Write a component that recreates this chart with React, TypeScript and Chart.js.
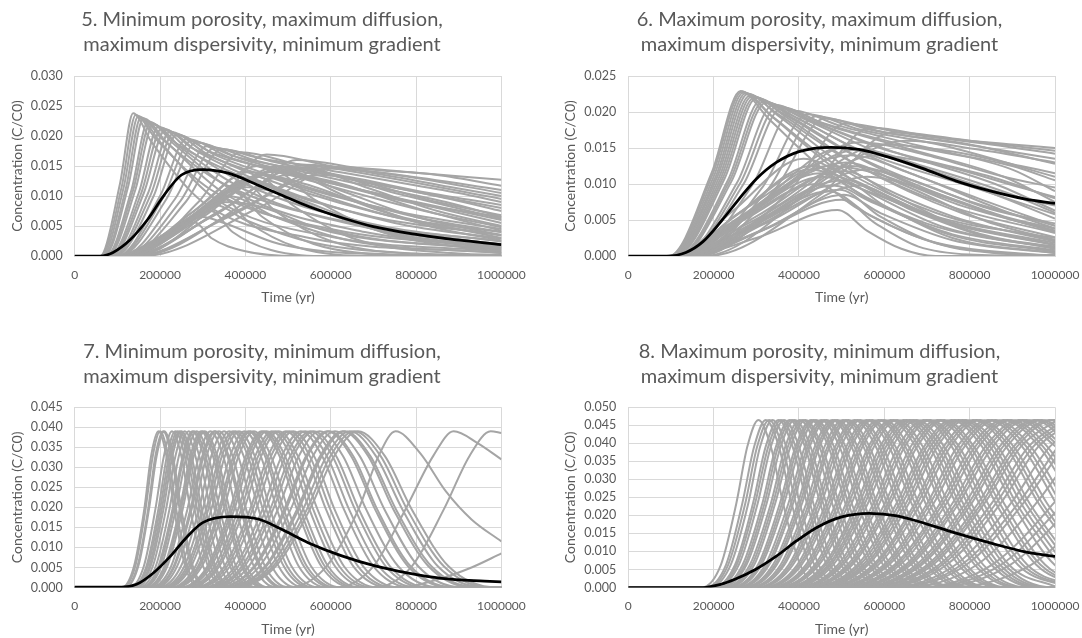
import React, { useEffect, useRef } from 'react';
import { Chart, registerables } from 'chart.js';

Chart.register(...registerables);

const GREY = '#a5a5a5';
const TEXT = '#595959';
const GRID = '#d9d9d9';
const FONT = 'Lato, "Open Sans", sans-serif';

const xAxisTitle = 'Time (yr)';
const yAxisTitle = 'Concentration (C/C0)';

const title5 = ['5. Minimum porosity, maximum diffusion,', 'maximum dispersivity, minimum gradient'];
const title6 = ['6. Maximum porosity, maximum diffusion,', 'maximum dispersivity, minimum gradient'];
const title7 = ['7. Minimum porosity, minimum diffusion,', 'maximum dispersivity, minimum gradient'];
const title8 = ['8. Maximum porosity, minimum diffusion,', 'maximum dispersivity, minimum gradient'];

const yMax5 = 0.03;
const yMax6 = 0.025;
const yMax7 = 0.045;
const yMax8 = 0.05;

// Curves: flat pairs [time (kyr), C/C0 (x 1e-3)]
const p5Black = [0,0, 60,0, 90,0.6, 130,2.7, 170,6.0, 210,10.2, 250,13.5, 300,14.4, 360,13.8, 430,11.8, 480,10.3, 550,8.2, 630,6.3, 700,4.9, 800,3.6, 880,2.8, 1000,1.9];
const p5Grey = [
  [0,0, 60,0, 106,12, 137,23.8, 180,19, 300,9, 550,3, 1000,0.5],
  [0,0, 65,0, 115,11.5, 149,23.3, 200,19, 330,9.5, 600,3.2, 1000,0.8],
  [0,0, 70,0, 125,11.5, 161,22.9, 215,19, 360,10, 650,3.5, 1000,1.2],
  [0,0, 74,0, 133,11, 172,22.4, 235,18.5, 380,10.5, 680,4, 1000,1.6],
  [0,0, 78,0, 142,11, 184,21.9, 250,18, 400,11, 700,4.5, 1000,2.0],
  [0,0, 82,0, 150,10.5, 196,21.5, 270,17.5, 430,11, 720,5, 1000,2.4],
  [0,0, 86,0, 162,10.5, 212,21.0, 290,17.3, 450,12, 750,5.5, 1000,2.9],
  [0,0, 90,0, 172,10.5, 223,20.7, 310,17, 480,12, 780,6, 1000,3.4],
  [0,0, 95,0, 185,10, 239,20.2, 330,16.8, 500,12.5, 800,6.5, 1000,4.0],
  [0,0, 100,0, 200,10, 262,19.5, 360,16.5, 530,13, 820,7.5, 1000,4.8],
  [0,0, 105,0, 215,9.5, 285,18.9, 390,16.2, 560,13, 850,8, 1000,5.5],
  [0,0, 110,0, 235,9.5, 310,18.3, 420,16, 600,13, 870,9, 1000,6.5],
  [0,0, 120,0, 260,9, 345,17.8, 460,15.8, 640,13, 880,9.5, 1000,7.5],
  [0,0, 130,0, 290,9, 390,17.3, 520,15.3, 700,13, 900,10.5, 1000,9.0],
  [0,0, 140,0, 330,8.5, 450,16.9, 600,15, 800,13, 1000,10.5],
  [0,0, 150,0, 380,8, 520,16, 680,14.5, 850,13.5, 1000,11.7],
  [0,0, 160,0, 430,8, 620,14.8, 780,14, 1000,12.7],
  [0,0, 90,0, 200,2.5, 282,5.6, 320,3, 400,0.8, 520,0, 1000,0],
  [0,0, 95,0, 220,3.5, 320,7.5, 370,4, 460,1, 600,0, 1000,0],
  [0,0, 100,0, 240,4.5, 350,9.5, 410,5.5, 520,1.5, 700,0, 1000,0],
  [0,0, 100,0, 250,5, 375,10.8, 440,6.5, 560,2, 760,0.2, 1000,0],
  [0,0, 105,0, 260,5.5, 400,12, 470,7.5, 600,2.5, 820,0.3, 1000,0.1],
  [0,0, 110,0, 280,6, 430,13.2, 510,8.5, 650,3, 900,0.4, 1000,0.2],
  [0,0, 115,0, 300,6.5, 465,14.2, 560,9.5, 720,4, 1000,0.6],
  [0,0, 120,0, 300,7, 480,14.5, 620,11, 800,6.5, 1000,3.5],
  [0,0, 130,0, 330,7, 530,14.8, 680,11.5, 850,7.5, 1000,5],
  [0,0, 110,0, 270,6, 420,12.5, 560,8, 750,3.5, 1000,1.2],
  [0,0, 140,0, 360,6.5, 580,13.5, 750,10.5, 1000,6.2],
  [0,0, 100,0, 230,4, 360,10, 470,6.5, 650,2.5, 1000,0.5],
  [0,0, 125,0, 320,6.5, 500,13.5, 650,9.5, 830,5, 1000,2.6],
  [0,0, 62,0, 110,11.5, 143,23.5, 190,19.5, 320,11, 600,4.5, 1000,1.5],
  [0,0, 68,0, 120,11.3, 155,23.1, 205,19.5, 350,12, 650,5.5, 1000,2.5],
  [0,0, 76,0, 137,11, 178,22.2, 240,18.7, 400,13, 700,6.5, 1000,3.5],
  [0,0, 84,0, 156,10.5, 204,21.3, 280,17.8, 440,13.5, 750,7.5, 1000,4.5],
  [0,0, 92,0, 178,10.2, 231,20.4, 320,17.3, 490,14, 800,9, 1000,6],
  [0,0, 102,0, 207,9.7, 273,19.2, 375,16.6, 560,14, 850,10, 1000,8],
  [0,0, 115,0, 248,9.2, 328,18, 440,16.2, 640,14.2, 1000,9.5],
  [0,0, 100,0, 230,4.5, 340,9, 420,8.5, 600,4, 1000,1],
  [0,0, 105,0, 250,5.5, 390,11.5, 480,10.5, 680,5.5, 1000,1.8],
  [0,0, 110,0, 270,6.5, 440,13.5, 540,12, 740,7, 1000,3],
  [0,0, 95,0, 210,3.5, 300,6.5, 350,5.5, 480,2, 700,0.3, 1000,0],
  [0,0, 115,0, 290,7, 460,14, 600,12.5, 800,8, 1000,4.2],
  [0,0, 120,0, 310,7.5, 500,14.8, 640,13, 850,9, 1000,6.8],
  [0,0, 108,0, 260,6, 410,12.8, 500,10, 700,4.5, 1000,1.4],
  [0,0, 98,0, 225,4, 330,8.5, 400,6, 560,2.2, 800,0.4, 1000,0.1],
  [0,0, 135,0, 340,7.5, 540,15.2, 700,13.8, 880,11.5, 1000,10],
  [0,0, 125,0, 310,7.5, 480,15, 640,13.2, 830,10.5, 1000,8.5],
  [0,0, 118,0, 280,7.5, 430,15, 580,12.5, 780,9, 1000,6.5],
  [0,0, 145,0, 380,7.5, 600,14.6, 760,13.5, 1000,11],
  [0,0, 112,0, 270,7, 410,14, 540,11, 750,6.5, 1000,4],
];

const p6Black = [0,0, 90,0, 135,0.5, 175,2.0, 220,5.0, 258,7.8, 300,10.7, 347,13.0, 400,14.5, 475,15.1, 540,14.8, 606,13.8, 688,12.2, 769,10.4, 850,9.0, 931,7.9, 1000,7.3];
const p6Grey = [
  [0,0, 95,0, 195,11.5, 263,22.9, 330,19, 480,11, 700,4.5, 1000,1.0],
  [0,0, 98,0, 202,11.3, 270,22.7, 340,19.2, 500,11.5, 730,5, 1000,1.5],
  [0,0, 102,0, 210,11.2, 280,22.5, 355,19.3, 520,12, 760,5.5, 1000,2.0],
  [0,0, 106,0, 218,11, 290,22.2, 370,19.3, 540,12.5, 780,6, 1000,2.6],
  [0,0, 110,0, 226,10.8, 300,21.9, 385,19.2, 560,13, 800,7, 1000,3.3],
  [0,0, 114,0, 234,10.6, 310,21.6, 400,19, 580,13.5, 820,8, 1000,4.2],
  [0,0, 118,0, 242,10.4, 322,21.3, 420,18.8, 600,14, 840,9, 1000,5.2],
  [0,0, 124,0, 255,10.2, 340,21.0, 440,18.5, 620,14.5, 860,10, 1000,6.3],
  [0,0, 130,0, 270,10, 360,20.6, 460,18.3, 650,15, 880,11, 1000,7.5],
  [0,0, 138,0, 290,9.8, 385,20.2, 500,18, 690,15.2, 900,12, 1000,9],
  [0,0, 146,0, 315,9.6, 420,19.7, 540,17.6, 740,15.3, 1000,11],
  [0,0, 155,0, 345,9.4, 460,19.1, 600,17.2, 800,15.5, 1000,12.8],
  [0,0, 165,0, 380,9.2, 510,18.4, 650,17, 850,15.5, 1000,14.2],
  [0,0, 175,0, 420,9, 570,17.8, 720,16.5, 900,15.5, 1000,15.0],
  [0,0, 185,0, 450,8.5, 620,17.2, 800,16, 1000,14.6],
  [0,0, 130,0, 300,2.5, 490,6.4, 560,3.5, 640,1, 720,0, 1000,0],
  [0,0, 130,0, 300,3.2, 500,7.8, 580,4.5, 680,1.3, 800,0.2, 1000,0],
  [0,0, 125,0, 290,3.8, 495,9.2, 590,5.5, 720,1.8, 880,0.3, 1000,0.1],
  [0,0, 120,0, 280,4.5, 500,10.5, 600,7, 760,2.5, 1000,0.4],
  [0,0, 120,0, 270,5, 505,11.8, 620,8.5, 800,3.5, 1000,1.0],
  [0,0, 115,0, 265,5.5, 510,13, 640,10, 840,4.8, 1000,2.2],
  [0,0, 115,0, 260,6, 520,14, 660,11.5, 870,6.5, 1000,3.8],
  [0,0, 120,0, 300,6.5, 540,14.8, 690,12.5, 900,8.5, 1000,6.0],
  [0,0, 110,0, 250,5, 450,11.5, 560,8, 750,3, 1000,0.6],
  [0,0, 112,0, 250,5.5, 430,12.5, 540,9.5, 740,4, 1000,1.2],
  [0,0, 108,0, 240,6, 410,13.5, 530,10.5, 740,5, 1000,1.8],
  [0,0, 135,0, 320,5, 560,12, 700,9, 900,5, 1000,3.5],
  [0,0, 140,0, 330,4, 540,9.8, 660,6.5, 850,2.5, 1000,1.3],
  [0,0, 125,0, 290,4.2, 470,9, 570,5.5, 720,1.8, 900,0.3, 1000,0.1],
  [0,0, 118,0, 260,4.8, 440,10, 540,6.5, 700,2.2, 950,0.2, 1000,0.1],
  [0,0, 96,0, 198,11.4, 266,22.8, 335,19.5, 490,12.5, 720,6, 1000,2.2],
  [0,0, 100,0, 206,11.2, 275,22.6, 348,19.8, 510,13.5, 750,7, 1000,3.2],
  [0,0, 104,0, 214,11.1, 285,22.3, 362,19.8, 530,14, 780,8, 1000,4.2],
  [0,0, 108,0, 222,10.9, 295,22, 378,19.7, 550,14.5, 810,9.5, 1000,5.8],
  [0,0, 116,0, 238,10.5, 316,21.4, 410,19.2, 590,15, 850,11, 1000,8],
  [0,0, 127,0, 262,10.1, 350,20.8, 450,18.6, 640,15.5, 900,12.5, 1000,10.5],
  [0,0, 150,0, 330,9.5, 440,19.4, 570,17.5, 780,15.6, 1000,13.5],
  [0,0, 125,0, 280,6, 470,12.5, 580,11.5, 780,7, 1000,3.5],
  [0,0, 118,0, 265,5.2, 455,11, 560,9, 760,4.5, 1000,1.6],
  [0,0, 132,0, 300,5.5, 520,12.5, 640,11, 850,6.5, 1000,4.5],
  [0,0, 128,0, 290,4.5, 480,9.8, 570,7.5, 760,3, 1000,0.8],
  [0,0, 140,0, 320,4.5, 560,11, 680,9.5, 880,5.5, 1000,3.8],
  [0,0, 135,0, 310,3.5, 505,8.5, 590,6, 760,2.2, 1000,0.4],
  [0,0, 112,0, 255,5.8, 425,12, 520,10.5, 720,5.5, 1000,2.5],
  [0,0, 145,0, 340,6, 580,14, 720,12.8, 920,9.5, 1000,8.2],
  [0,0, 150,0, 350,7, 600,15.5, 760,14.5, 920,12.5, 1000,11.5],
  [0,0, 135,0, 320,7.5, 540,15.8, 700,14, 880,11, 1000,9.5],
  [0,0, 160,0, 380,7.5, 650,16, 820,14.8, 1000,13],
  [0,0, 130,0, 300,7, 500,15, 660,12.8, 860,9, 1000,7],
];

const p7Black = [0,0.1, 110,0.1, 145,0.8, 185,3.7, 225,7.9, 262,12.5, 300,16.2, 365,17.7, 430,17.1, 480,14.8, 547,11.2, 626,7.9, 704,5.4, 782,3.6, 860,2.3, 960,1.6, 1000,1.4];
// Bell-shaped curves: knot times (kyr) per curve, with the shared knot levels (x 1e-3)
const p7Levels = [0, 0, 5.3, 19.5, 32.8, 39, 32.8, 19.5, 5.3, 0, 0];
const p7Times = [
  [0,110,139,163,179,196,215,233,259,292,1000],
  [0,112,142,166,183,200,219,238,264,298,1000],
  [0,116,147,172,189,207,227,246,273,308,1000],
  [0,118,149,174,192,210,230,250,277,313,1000],
  [0,128,162,189,209,228,250,271,301,340,1000],
  [0,132,168,196,216,236,258,281,312,352,1000],
  [0,135,171,200,221,241,264,287,318,359,1000],
  [0,138,175,204,225,246,269,293,325,367,1000],
  [0,140,178,208,229,250,274,298,330,373,1000],
  [0,144,183,214,236,258,283,307,341,384,1000],
  [0,150,190,222,244,267,292,318,352,398,1000],
  [0,155,196,229,253,276,302,328,364,411,1000],
  [0,157,199,232,256,280,307,333,370,417,1000],
  [0,160,203,237,262,286,313,340,378,426,1000],
  [0,166,210,246,271,296,324,352,391,441,1000],
  [0,168,213,249,275,300,329,357,396,447,1000],
  [0,171,217,253,279,305,334,363,403,454,1000],
  [0,178,226,264,291,318,348,378,420,474,1000],
  [0,183,232,271,299,327,358,389,432,487,1000],
  [0,185,234,274,302,330,361,393,436,492,1000],
  [0,189,240,281,309,338,370,402,446,504,1000],
  [0,196,249,291,320,350,383,417,462,522,1000],
  [0,203,257,300,331,362,396,431,478,539,1000],
  [0,208,263,308,339,371,406,441,490,553,1000],
  [0,211,268,313,345,377,413,449,498,562,1000],
  [0,216,273,320,352,385,422,458,508,574,1000],
  [0,223,283,330,364,398,436,474,525,593,1000],
  [0,228,289,338,372,407,446,484,537,606,1000],
  [0,231,293,342,377,412,451,490,544,614,1000],
  [0,235,298,349,384,420,460,500,554,626,1000],
  [0,245,311,364,401,438,480,521,578,653,1000],
  [0,249,315,369,406,444,486,528,586,662,1000],
  [0,252,320,374,412,450,493,536,594,671,1000],
  [0,259,328,383,423,462,506,550,610,688,1000],
  [0,263,334,390,430,470,515,559,620,700,1000],
  [0,268,339,397,437,478,523,569,631,712,1000],
  [0,277,351,411,453,495,542,589,653,738,1000],
  [0,282,357,417,460,503,551,599,664,749,1000],
  [0,287,364,425,468,512,561,609,676,763,1000],
  [0,297,376,440,485,530,580,631,700,790,1000],
  [0,302,383,448,494,540,591,643,713,805,1000],
  [0,309,392,458,505,552,604,657,729,822,1000],
  [0,314,398,465,512,560,613,666,739,834,1000],
  [0,321,408,476,525,574,629,683,758,855,1000],
  [0,332,420,491,542,592,648,704,781,882,1000],
  [0,334,423,495,545,596,653,709,787,888,1000],
  [0,342,433,506,558,610,668,726,805,909,1000],
  [0,352,446,521,575,628,688,747,829,936,1000],
  [0,354,449,525,579,633,693,753,836,943,1000],
  [0,361,458,535,590,645,706,768,851,961,1000],
  [0,367,465,544,599,655,717,779,865,976,1000],
  [0,372,471,551,608,664,727,790,876,989,1000],
];
const p7Late = [
  [0,0, 500,0, 590,5.3, 665,19.5, 712,32.8, 752,39, 810,33.5, 870,24, 930,17, 1000,11.5],
  [0,0, 610,0, 700,5.3, 775,19.5, 840,32.8, 888,39, 945,36, 1000,32],
  [0,0, 700,0, 790,5.3, 865,19.5, 925,32.8, 975,39, 1000,38.6],
  [0,0, 760,0, 850,2, 930,5, 1000,8.5],
];

const p8Black = [0,0, 175,0, 217,0.9, 250,2.3, 298,5.0, 347,8.7, 395,13.0, 444,16.8, 500,19.6, 565,20.6, 630,19.9, 700,17.6, 770,15.0, 850,12.3, 930,9.9, 1000,8.6];
const p8Levels = [0, 0, 6.3, 23.25, 39.1, 46.5, 39.1, 23.25, 6.3, 0, 0];
const p8Times = [
  [0,171,217,253,279,305,334,363,403,454,1000],
  [0,180,229,267,295,322,353,383,425,480,1000],
  [0,185,234,274,302,330,361,393,436,492,1000],
  [0,189,240,281,309,338,370,402,446,504,1000],
  [0,197,250,292,322,352,385,419,465,524,1000],
  [0,200,254,297,328,358,392,426,473,533,1000],
  [0,204,259,303,334,365,400,434,482,544,1000],
  [0,212,268,314,346,378,414,450,499,563,1000],
  [0,215,273,319,351,384,420,457,507,572,1000],
  [0,218,277,324,357,390,427,464,515,581,1000],
  [0,225,285,334,368,402,440,478,531,599,1000],
  [0,229,290,339,374,409,448,487,540,609,1000],
  [0,232,295,344,380,415,454,494,548,618,1000],
  [0,240,304,355,392,428,469,509,565,638,1000],
  [0,243,308,360,397,434,475,516,573,647,1000],
  [0,246,312,365,403,440,482,524,581,656,1000],
  [0,253,321,375,414,452,495,538,597,673,1000],
  [0,257,326,381,420,459,503,546,606,684,1000],
  [0,260,330,386,425,465,509,553,614,693,1000],
  [0,268,339,397,437,478,523,569,631,712,1000],
  [0,271,344,402,443,484,530,576,639,721,1000],
  [0,274,348,407,448,490,537,583,647,730,1000],
  [0,282,357,417,460,503,551,599,664,749,1000],
  [0,286,362,423,467,510,558,607,673,760,1000],
  [0,289,366,428,472,516,565,614,681,769,1000],
  [0,297,376,440,485,530,580,631,700,790,1000],
  [0,301,381,446,491,537,588,639,709,800,1000],
  [0,305,386,452,498,544,596,647,718,811,1000],
  [0,312,396,463,511,558,611,664,737,831,1000],
  [0,316,401,469,517,565,619,672,746,842,1000],
  [0,320,406,475,523,572,626,681,755,852,1000],
  [0,328,416,486,536,586,642,697,774,873,1000],
  [0,332,421,492,543,593,649,706,783,884,1000],
  [0,336,426,498,549,600,657,714,792,894,1000],
  [0,344,437,510,563,615,673,732,812,916,1000],
  [0,348,442,516,569,622,681,740,821,927,1000],
  [0,353,447,523,576,630,690,750,832,939,1000],
  [0,361,458,535,590,645,706,768,851,961,1000],
  [0,365,463,541,597,652,714,776,861,971,1000],
  [0,370,469,548,604,660,723,785,871,983,1000],
  [0,374,474,554,611,668,731,795,882,995,1000],
  [0,379,480,561,619,676,740,804,892,1007],
  [0,388,491,574,633,692,758,823,913,1031],
  [0,392,497,581,641,700,767,833,924,1043],
  [0,396,503,588,648,708,775,843,935,1055],
  [0,405,514,601,662,724,793,862,956,1079],
  [0,410,520,608,670,732,802,871,966,1091],
  [0,414,525,614,677,740,810,881,977,1103],
  [0,424,537,628,693,757,829,901,999,1128],
  [0,428,543,635,700,765,838,910,1010],
  [0,433,550,642,708,774,848,921,1022],
  [0,438,556,650,716,783,857,932,1034],
  [0,443,562,657,724,791,866,941,1044],
  [0,452,574,671,739,808,885,962,1067],
  [0,457,579,677,747,816,894,971,1077],
  [0,462,586,685,755,825,903,982,1089],
  [0,472,599,700,771,843,923,1003],
  [0,477,605,707,780,852,933,1014],
  [0,482,611,715,788,861,943,1025],
  [0,492,624,730,804,879,963,1046],
  [0,497,630,737,813,888,972,1057],
  [0,502,637,745,821,897,982,1067],
  [0,512,650,759,837,915,1002],
  [0,517,656,767,845,924,1012],
  [0,522,662,774,854,933,1022],
  [0,533,675,789,870,951,1041],
  [0,538,682,797,878,960,1051],
  [0,543,688,804,887,969,1061],
  [0,553,701,819,903,987,1081],
  [0,558,707,827,911,996,1091],
  [0,563,714,834,920,1005],
  [0,574,728,851,938,1025],
  [0,581,736,861,949,1037],
  [0,588,746,872,961,1050],
  [0,605,767,896,988,1080],
  [0,616,781,913,1007],
  [0,624,792,925,1020],
  [0,644,817,955,1052],
  [0,672,852,996,1098],
  [0,689,873,1021],
  [0,706,895,1046],
  [0,745,944,1104],
];

type Pt = { x: number; y: number };

function fromPairs(flat: number[]): Pt[] {
  const pts: Pt[] = [];
  for (let i = 0; i < flat.length; i += 2) pts.push({ x: flat[i] * 1000, y: flat[i + 1] / 1000 });
  return pts;
}

function fromTimes(times: number[], levels: number[]): Pt[] {
  return times.map((t, i) => ({ x: t * 1000, y: levels[i] / 1000 }));
}

type PanelDef = {
  title: string[];
  yMax: number;
  black: Pt[];
  grey: Pt[][];
  box: { left: number; top: number; width: number; height: number };
  padLeft: number;
  padRight: number;
  yAxisWidth: number;
  titlePadTop: number;
  titlePadBottom: number;
  xAxisHeight: number;
  yTitlePad: number;
};

const panels: PanelDef[] = [
  {
    title: title5, yMax: yMax5, black: fromPairs(p5Black), grey: p5Grey.map(fromPairs),
    box: { left: 0, top: 0, width: 530, height: 306 },
    padLeft: 22.6, padRight: 28.6, yAxisWidth: 52.1,
    titlePadTop: 7.5, titlePadBottom: 18.5, xAxisHeight: 50, yTitlePad: -14,
  },
  {
    title: title6, yMax: yMax6, black: fromPairs(p6Black), grey: p6Grey.map(fromPairs),
    box: { left: 557, top: 0, width: 525, height: 306 },
    padLeft: 27, padRight: 27, yAxisWidth: 44.3,
    titlePadTop: 7.5, titlePadBottom: 18.5, xAxisHeight: 50, yTitlePad: -22,
  },
  {
    title: title7, yMax: yMax7, black: fromPairs(p7Black),
    grey: [...p7Times.map((r) => fromTimes(r, p7Levels)), ...p7Late.map(fromPairs)],
    box: { left: 0, top: 320, width: 530, height: 318 },
    padLeft: 22.6, padRight: 28.6, yAxisWidth: 52.1,
    titlePadTop: 19.5, titlePadBottom: 17.8, xAxisHeight: 50.5, yTitlePad: -14,
  },
  {
    title: title8, yMax: yMax8, black: fromPairs(p8Black),
    grey: p8Times.map((r) => fromTimes(r, p8Levels)),
    box: { left: 557, top: 320, width: 525, height: 318 },
    padLeft: 27, padRight: 27, yAxisWidth: 44.3,
    titlePadTop: 19.5, titlePadBottom: 17.8, xAxisHeight: 50.5, yTitlePad: -22,
  },
];

function Panel({ def }: { def: PanelDef }) {
  const ref = useRef<HTMLCanvasElement | null>(null);
  useEffect(() => {
    if (!ref.current) return;
    const datasets: any[] = [
      {
        data: def.black,
        borderColor: '#000000',
        borderWidth: 2.75,
        order: 0,
      },
      ...def.grey.map((g) => ({
        data: g,
        borderColor: GREY,
        borderWidth: 2,
        order: 1,
      })),
    ];
    const chart = new Chart(ref.current, {
      type: 'line',
      data: { datasets },
      options: {
        animation: false,
        responsive: true,
        maintainAspectRatio: false,
        events: [],
        parsing: false as any,
        layout: { padding: { left: def.padLeft, right: def.padRight, top: 0, bottom: 0 } },
        elements: {
          point: { radius: 0 },
          line: { cubicInterpolationMode: 'monotone', fill: false },
        },
        plugins: {
          legend: { display: false },
          tooltip: { enabled: false },
          title: {
            display: true,
            text: def.title,
            color: TEXT,
            font: { family: FONT, size: 20, weight: 'normal', lineHeight: 1.25 },
            padding: { top: def.titlePadTop, bottom: def.titlePadBottom },
          },
        },
        scales: {
          x: {
            type: 'linear',
            min: 0,
            max: 1000000,
            afterFit: (s: any) => {
              s.height = def.xAxisHeight;
              s.paddingLeft = 0;
              s.paddingRight = 0;
            },
            ticks: {
              stepSize: 200000,
              color: TEXT,
              font: { family: FONT, size: 12 },
              padding: 11.5,
              maxRotation: 0,
              autoSkip: false,
              callback: (v: any) => String(v),
            },
            grid: { color: GRID, lineWidth: 1, drawTicks: false },
            border: { color: GRID, width: 1 },
            title: {
              display: true,
              text: xAxisTitle,
              color: TEXT,
              font: { family: FONT, size: 14, lineHeight: 1.2 },
              padding: { top: 0, bottom: 0.6 },
            },
          },
          y: {
            type: 'linear',
            min: 0,
            max: def.yMax,
            afterFit: (s: any) => {
              s.width = def.yAxisWidth;
            },
            ticks: {
              stepSize: 0.005,
              color: TEXT,
              font: { family: FONT, size: 12.5 },
              padding: 12,
              callback: (v: any) => Number(v).toFixed(3),
            },
            grid: { color: GRID, lineWidth: 1, drawTicks: false },
            border: { color: GRID, width: 1 },
            title: {
              display: true,
              text: yAxisTitle,
              color: TEXT,
              font: { family: FONT, size: 14, lineHeight: 1.2 },
              padding: { top: def.yTitlePad, bottom: 0 },
            },
          },
        },
      } as any,
    });
    return () => chart.destroy();
  }, [def]);

  const b = def.box;
  return (
    <div style={{ position: 'absolute', left: b.left, top: b.top, width: b.width, height: b.height }}>
      <canvas ref={ref} />
    </div>
  );
}

export default function App() {
  return (
    <div style={{ position: 'absolute', left: 0, top: 0, width: 1082, height: 638, background: '#ffffff', overflow: 'hidden' }}>
      {panels.map((p, i) => (
        <Panel key={i} def={p} />
      ))}
    </div>
  );
}
